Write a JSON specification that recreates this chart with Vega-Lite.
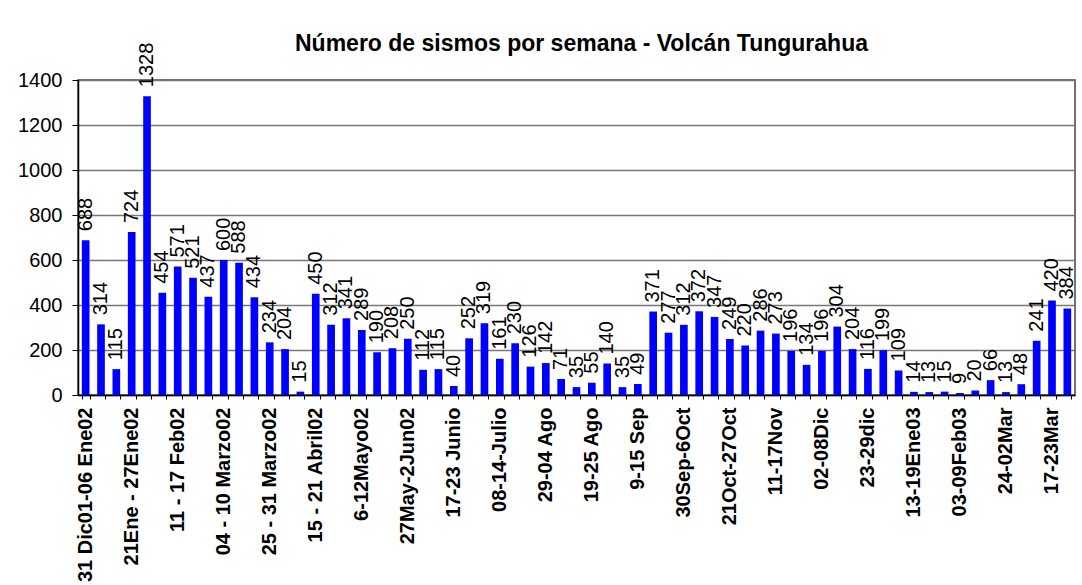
{
  "$schema": "https://vega.github.io/schema/vega-lite/v6.json",
  "autosize": "none",
  "width": 997,
  "height": 315,
  "padding": {"left": 78, "top": 80, "right": 7, "bottom": 190},
  "background": "white",
  "title": {
    "text": "Número de sismos por semana - Volcán Tungurahua",
    "font": "Liberation Sans",
    "fontSize": 23,
    "fontWeight": "bold",
    "color": "#000000",
    "anchor": "middle",
    "offset": -13,
    "dx": 5
  },
  "config": {
    "view": {"stroke": "#444444", "strokeWidth": 1.5},
    "axis": {"labelFont": "Liberation Sans", "labelColor": "#000000", "domainColor": "#000000", "tickColor": "#000000"}
  },
  "data": {
    "values": [
      {"semana": "31 Dic01-06 Ene02", "sismos": 688},
      {"semana": "07-13 Ene02", "sismos": 314},
      {"semana": "14-20 Ene02", "sismos": 115},
      {"semana": "21Ene - 27Ene02", "sismos": 724},
      {"semana": "28Ene-03Feb02", "sismos": 1328},
      {"semana": "04-10 Feb02", "sismos": 454},
      {"semana": "11 - 17 Feb02", "sismos": 571},
      {"semana": "18-24 Feb02", "sismos": 521},
      {"semana": "25Feb-03Mar02", "sismos": 437},
      {"semana": "04 - 10 Marzo02", "sismos": 600},
      {"semana": "11-17 Marzo02", "sismos": 588},
      {"semana": "18-24 Marzo02", "sismos": 434},
      {"semana": "25 - 31 Marzo02", "sismos": 234},
      {"semana": "01-07 Abril02", "sismos": 204},
      {"semana": "08-14 Abril02", "sismos": 15},
      {"semana": "15 - 21 Abril02", "sismos": 450},
      {"semana": "22-28 Abril02", "sismos": 312},
      {"semana": "29Abr-05May02", "sismos": 341},
      {"semana": "6-12Mayo02", "sismos": 289},
      {"semana": "13-19Mayo02", "sismos": 190},
      {"semana": "20-26Mayo02", "sismos": 208},
      {"semana": "27May-2Jun02", "sismos": 250},
      {"semana": "03-09 Junio", "sismos": 112},
      {"semana": "10-16 Junio", "sismos": 115},
      {"semana": "17-23 Junio", "sismos": 40},
      {"semana": "24-30 Junio", "sismos": 252},
      {"semana": "01-07 Julio", "sismos": 319},
      {"semana": "08-14-Julio", "sismos": 161},
      {"semana": "15-21 Julio", "sismos": 230},
      {"semana": "22-28 Julio", "sismos": 126},
      {"semana": "29-04 Ago", "sismos": 142},
      {"semana": "05-11 Ago", "sismos": 71},
      {"semana": "12-18 Ago", "sismos": 35},
      {"semana": "19-25 Ago", "sismos": 55},
      {"semana": "26Ago-01Sep", "sismos": 140},
      {"semana": "02-08 Sep", "sismos": 35},
      {"semana": "9-15 Sep", "sismos": 49},
      {"semana": "16-22 Sep", "sismos": 371},
      {"semana": "23-29 Sep", "sismos": 277},
      {"semana": "30Sep-6Oct", "sismos": 312},
      {"semana": "07-13Oct", "sismos": 372},
      {"semana": "14-20Oct", "sismos": 347},
      {"semana": "21Oct-27Oct", "sismos": 249},
      {"semana": "28Oct-03Nov", "sismos": 220},
      {"semana": "04-10Nov", "sismos": 286},
      {"semana": "11-17Nov", "sismos": 273},
      {"semana": "18-24Nov", "sismos": 196},
      {"semana": "25Nov-01Dic", "sismos": 134},
      {"semana": "02-08Dic", "sismos": 196},
      {"semana": "09-15Dic", "sismos": 304},
      {"semana": "16-22Dic", "sismos": 204},
      {"semana": "23-29dic", "sismos": 116},
      {"semana": "30Dic-05Ene03", "sismos": 199},
      {"semana": "06-12Ene03", "sismos": 109},
      {"semana": "13-19Ene03", "sismos": 14},
      {"semana": "20-26Ene03", "sismos": 13},
      {"semana": "27Ene-02Feb03", "sismos": 15},
      {"semana": "03-09Feb03", "sismos": 9},
      {"semana": "10-16Feb03", "sismos": 20},
      {"semana": "17-23Feb03", "sismos": 66},
      {"semana": "24-02Mar", "sismos": 13},
      {"semana": "03-09Mar", "sismos": 48},
      {"semana": "10-16Mar", "sismos": 241},
      {"semana": "17-23Mar", "sismos": 420},
      {"semana": "24-30Mar", "sismos": 384}
    ]
  },
  "encoding": {
    "x": {
      "field": "semana",
      "type": "nominal",
      "sort": null,
      "scale": {"paddingInner": 0.5, "paddingOuter": 0.25},
      "axis": {
        "title": null,
        "labelAngle": -90,
        "labelFontSize": 20,
        "labelFontWeight": "bold",
        "labelPadding": 8,
        "labelOverlap": false,
        "labelBound": false,
        "labelExpr": "round(datum.index * 64) % 3 === 0 ? datum.label : ''",
        "tickBand": "extent",
        "tickSize": 4,
        "domainWidth": 1.5
      }
    },
    "y": {
      "field": "sismos",
      "type": "quantitative",
      "scale": {"domain": [0, 1400], "nice": false},
      "axis": {
        "title": null,
        "format": "d",
        "values": [0, 200, 400, 600, 800, 1000, 1200, 1400],
        "labelFontSize": 20,
        "labelPadding": 10,
        "tickSize": 6,
        "gridColor": "#777777",
        "gridWidth": 1.5,
        "domainWidth": 1.5
      }
    }
  },
  "layer": [
    {"mark": {"type": "bar", "color": "#0000FF"}},
    {
      "mark": {
        "type": "text",
        "angle": -90,
        "align": "left",
        "baseline": "middle",
        "dx": 9,
        "font": "Liberation Sans",
        "fontSize": 20,
        "color": "#000000"
      },
      "encoding": {"text": {"field": "sismos", "type": "quantitative"}}
    }
  ]
}
